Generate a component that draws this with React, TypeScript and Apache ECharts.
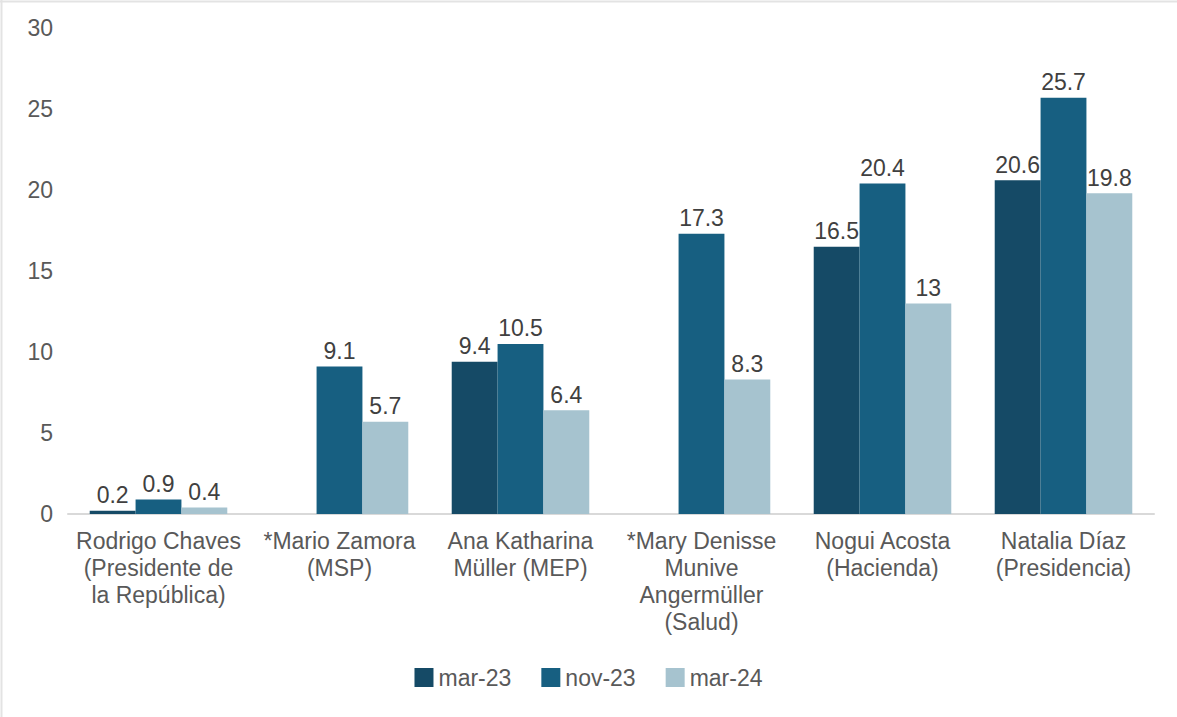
import React, { useEffect, useRef } from "react";
import * as echarts from "echarts";

const categories = [
  "Rodrigo Chaves\n(Presidente de\nla República)",
  "*Mario Zamora\n(MSP)",
  "Ana Katharina\nMüller (MEP)",
  "*Mary Denisse\nMunive\nAngermüller\n(Salud)",
  "Nogui Acosta\n(Hacienda)",
  "Natalia Díaz\n(Presidencia)",
];
const seriesNames = ["mar-23", "nov-23", "mar-24"];
const mar23: (number | null)[] = [0.2, null, 9.4, null, 16.5, 20.6];
const nov23: (number | null)[] = [0.9, 9.1, 10.5, 17.3, 20.4, 25.7];
const mar24: (number | null)[] = [0.4, 5.7, 6.4, 8.3, 13, 19.8];
const yTicks = { min: 0, max: 30, interval: 5 };

const colors = ["#154a66", "#175f81", "#a6c3cf"];
const FONT = "Liberation Sans, Arial, sans-serif";

export default function App() {
  const ref = useRef<HTMLDivElement>(null);
  useEffect(() => {
    if (!ref.current) return;
    const chart = echarts.init(ref.current, null, { renderer: "svg" });
    const mk = (name: string, data: (number | null)[], i: number) => ({
      name,
      type: "bar",
      data: data.map((v) => (v === null ? "-" : v)),
      barGap: "0%",
      barCategoryGap: "24%",
      itemStyle: { color: colors[i] },
      label: {
        show: true,
        position: "top",
        distance: 4,
        color: "#404040",
        fontSize: 23,
        fontFamily: FONT,
      },
    });
    chart.setOption({
      animation: false,
      textStyle: { fontFamily: FONT },
      grid: { left: 68, right: 23, top: 28, bottom: 203, containLabel: false },
      legend: {
        data: seriesNames,
        bottom: 23,
        left: "center",
        itemWidth: 19,
        itemHeight: 19,
        itemGap: 30,
        icon: "rect",
        textStyle: { color: "#595959", fontSize: 23, fontFamily: FONT },
      },
      xAxis: {
        type: "category",
        data: categories,
        axisLine: { lineStyle: { color: "#d9d9d9", width: 2 } },
        axisTick: { show: false },
        axisLabel: {
          interval: 0,
          color: "#595959",
          fontSize: 23,
          lineHeight: 27,
          margin: 13,
          fontFamily: FONT,
        },
      },
      yAxis: {
        type: "value",
        min: yTicks.min,
        max: yTicks.max,
        interval: yTicks.interval,
        splitLine: { show: false },
        axisLine: { show: false },
        axisTick: { show: false },
        axisLabel: { color: "#595959", fontSize: 23, margin: 15, fontFamily: FONT },
      },
      graphic: [
        { type: "line", shape: { x1: 1.5, y1: 0, x2: 1.5, y2: 717 }, style: { stroke: "#e3e3e3", lineWidth: 2 } },
        { type: "line", shape: { x1: 0, y1: 1.5, x2: 1177, y2: 1.5 }, style: { stroke: "#e3e3e3", lineWidth: 2 } },
      ],
      series: [mk(seriesNames[0], mar23, 0), mk(seriesNames[1], nov23, 1), mk(seriesNames[2], mar24, 2)],
    });
    return () => chart.dispose();
  }, []);
  return (
    <div style={{ position: "absolute", left: 0, top: 0, width: 1177, height: 717, background: "#fff" }}>
      <div ref={ref} style={{ width: 1177, height: 717 }} />
    </div>
  );
}
